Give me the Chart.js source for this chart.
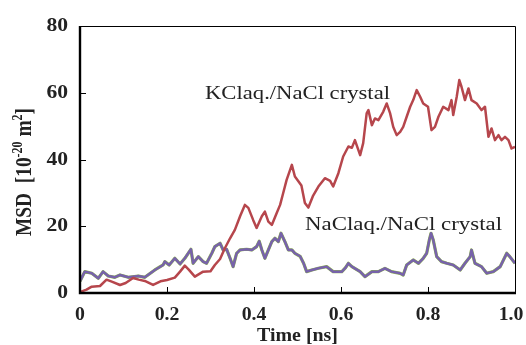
<!DOCTYPE html>
<html>
<head>
<meta charset="utf-8">
<script src="https://cdn.jsdelivr.net/npm/chart.js@4.4.1/dist/chart.umd.min.js"></script>
<style>
  html, body { margin: 0; padding: 0; background: #fff; }
  #wrap { width: 526px; height: 345px; }
</style>
</head>
<body>
<div id="wrap"><canvas id="myChart" width="526" height="345"></canvas></div>
<script>
// KCl aq. / NaCl crystal (red line)
const kclTime = [0.000,0.015,0.027,0.046,0.061,0.073,0.092,0.105,0.122,0.135,0.149,0.168,0.185,0.200,0.218,0.230,0.241,0.250,0.264,0.283,
  0.300,0.310,0.322,0.333,0.345,0.356,0.368,0.379,0.387,0.398,0.406,0.418,0.425,0.433,0.441,0.452,0.460,0.467,0.475,0.487,
  0.494,0.502,0.509,0.517,0.525,0.536,0.548,0.563,0.575,0.582,0.594,0.605,0.617,0.625,0.632,0.644,0.651,0.659,0.663,0.671,
  0.678,0.686,0.697,0.705,0.713,0.720,0.728,0.736,0.743,0.751,0.759,0.766,0.774,0.782,0.789,0.800,0.808,0.816,0.824,0.835,
  0.847,0.854,0.858,0.866,0.872,0.877,0.885,0.893,0.900,0.912,0.923,0.931,0.939,0.946,0.954,0.962,0.969,0.977,0.985,0.992,1.000];
const kclMsd = [0.3,1.0,1.9,2.1,4.0,3.4,2.4,3.0,4.5,4.0,3.6,2.4,3.5,3.9,4.6,6.4,8.2,7.0,4.9,6.4,
  6.5,8.4,10.2,13.4,16.4,18.9,23.0,26.4,25.5,21.9,19.5,23.0,24.4,21.4,20.4,23.9,26.4,29.9,33.9,38.4,
  34.9,33.5,32.2,27.0,25.6,29.2,31.9,34.4,33.6,31.9,35.9,40.9,43.9,43.5,45.8,41.3,44.9,53.8,54.8,50.3,
  52.3,51.8,54.3,56.8,53.8,49.8,47.3,48.3,49.8,52.8,55.8,57.8,60.8,58.8,56.8,55.8,48.8,49.8,52.8,55.8,
  54.8,57.8,53.3,58.8,63.8,61.8,57.8,61.3,57.8,56.8,54.8,55.8,46.8,49.3,45.8,47.3,45.8,46.8,45.8,43.3,43.8];

// NaCl aq. / NaCl crystal (purple line)
const naclTime = [0.000,0.011,0.027,0.042,0.053,0.065,0.080,0.092,0.111,0.134,0.149,0.172,0.191,0.195,0.205,0.218,0.230,0.241,0.255,0.260,
  0.272,0.283,0.291,0.303,0.310,0.322,0.329,0.337,0.345,0.352,0.360,0.368,0.383,0.395,0.406,0.412,0.418,0.425,0.433,0.441,
  0.448,0.456,0.462,0.471,0.479,0.487,0.494,0.506,0.514,0.521,0.533,0.548,0.567,0.582,0.602,0.610,0.617,0.625,0.644,0.655,
  0.671,0.686,0.701,0.716,0.736,0.743,0.751,0.766,0.778,0.789,0.797,0.803,0.807,0.812,0.820,0.831,0.843,0.858,0.874,0.885,
  0.897,0.900,0.908,0.923,0.935,0.950,0.966,0.981,0.988,1.000];
const naclMsd = [3.5,6.4,5.9,4.4,6.4,5.1,4.7,5.4,4.7,5.1,4.7,6.9,8.4,9.4,8.4,10.4,8.7,10.4,13.1,8.9,
  10.9,9.4,8.9,11.9,13.9,14.9,12.9,13.1,10.4,7.9,11.9,12.9,13.1,12.9,13.9,15.5,12.9,10.4,12.9,15.4,
  16.4,15.4,17.9,15.4,12.9,12.9,11.9,11.0,8.9,6.4,6.9,7.4,7.9,6.4,6.4,7.5,8.9,7.9,6.4,4.9,
  6.4,6.4,7.4,6.4,5.9,5.4,8.4,9.9,8.9,10.4,11.9,15.9,17.9,15.9,10.9,9.4,8.9,8.4,6.9,8.9,
  10.9,12.9,8.9,7.9,5.9,6.4,7.9,11.9,10.9,8.9];

const xTicks = [0, 0.2, 0.4, 0.6, 0.8, 1.0];
const yTicks = [0, 20, 40, 60, 80];
const xTickLabels = ['0', '0.2', '0.4', '0.6', '0.8', '1.0'];
const yTickLabels = ['0', '20', '40', '60', '80'];

function pts(xs, ys) {
  return xs.map((x, i) => ({ x: x, y: ys[i] }));
}

const serif = '"Liberation Serif", "Times New Roman", serif';
const ink = '#222';

// text stretched horizontally like the scanned figure
function wideText(c, text, x, y, font, sx, align) {
  c.save();
  c.font = font;
  const w = c.measureText(text).width * sx;
  let left = x;
  if (align === 'center') left = x - w / 2;
  if (align === 'right') left = x - w;
  c.translate(left, y);
  c.scale(sx, 1);
  c.textAlign = 'left';
  c.fillText(text, 0, 0);
  c.restore();
}

function fitText(c, text, left, baseline, font, width) {
  c.save();
  c.font = font;
  const sx = width / c.measureText(text).width;
  c.translate(left, baseline);
  c.scale(sx, 1);
  c.textAlign = 'left';
  c.fillText(text, 0, 0);
  c.restore();
}

// frame, inner ticks, labels and the y title
const extras = {
  id: 'extras',
  afterDraw(chart) {
    const c = chart.ctx;
    const a = chart.chartArea;
    const xs = chart.scales.x, ys = chart.scales.y;
    c.save();
    c.strokeStyle = '#000';
    c.lineWidth = 1;
    c.beginPath();
    c.moveTo(a.left, a.top + 0.5); c.lineTo(a.right + 0.5, a.top + 0.5);
    c.lineTo(a.right + 0.5, a.bottom);
    c.stroke();
    c.lineWidth = 2.4;
    c.beginPath();
    c.moveTo(a.left, a.top); c.lineTo(a.left, a.bottom); c.lineTo(a.right + 1, a.bottom);
    c.stroke();
    c.lineWidth = 1;
    xTicks.slice(1, -1).forEach(v => {
      const px = Math.round(xs.getPixelForValue(v)) + 0.5;
      c.beginPath(); c.moveTo(px, a.bottom); c.lineTo(px, a.bottom - 6); c.stroke();
    });
    yTicks.slice(1, -1).forEach(v => {
      const py = Math.round(ys.getPixelForValue(v)) + 0.5;
      c.beginPath(); c.moveTo(a.left, py); c.lineTo(a.left + 6, py); c.stroke();
    });

    c.fillStyle = ink;
    c.textBaseline = 'alphabetic';
    const tickFont = 'bold 18px ' + serif;
    xTicks.forEach((v, i) => {
      let px = xs.getPixelForValue(v);
      if (i === xTicks.length - 1) px -= 4; // keep "1.0" inside the canvas
      wideText(c, xTickLabels[i], px, a.bottom + 27, tickFont, 1.1, 'center');
    });
    yTicks.forEach((v, i) => {
      wideText(c, yTickLabels[i], a.left - 12, ys.getPixelForValue(v) + 5, tickFont, 1.2, 'right');
    });

    fitText(c, 'Time [ns]', 257, 341, 'bold 18.5px ' + serif, 81);

    fitText(c, 'KClaq./NaCl crystal', 205, 99, '18.6px ' + serif, 185);
    fitText(c, 'NaClaq./NaCl crystal', 305, 230, '18.6px ' + serif, 197);

    // y title with superscripts
    c.translate(23, 172);
    c.scale(1.17, 1);
    c.rotate(-Math.PI / 2);
    const parts = [['MSD  [10', 19.4, 0], ['-20', 12, -7], [' m', 19.4, 0], ['2', 12, -7], [']', 19.4, 0]];
    let w = 0;
    parts.forEach(p => { c.font = 'bold ' + p[1] + 'px ' + serif; w += c.measureText(p[0]).width; });
    let x = -w / 2;
    c.textBaseline = 'alphabetic';
    c.textAlign = 'left';
    parts.forEach(p => {
      c.font = 'bold ' + p[1] + 'px ' + serif;
      c.fillText(p[0], x, 6.5 + p[2]);
      x += c.measureText(p[0]).width;
    });
    c.restore();
  }
};

const ctx = document.getElementById('myChart');
new Chart(ctx, {
  type: 'line',
  data: {
    datasets: [
      { data: pts(kclTime, kclMsd), borderColor: '#b6464c', borderWidth: 2.5, order: 1 },
      { data: pts(naclTime, naclMsd), borderColor: '#7762aa', borderWidth: 2.5, order: 2 },
      { data: pts(naclTime, naclMsd), borderColor: '#8db34e', borderWidth: 3.2, order: 4 }
    ]
  },
  options: {
    responsive: false,
    animation: false,
    devicePixelRatio: 1,
    layout: { padding: { top: 26, right: 11, left: 0, bottom: 0 } },
    elements: { point: { radius: 0 }, line: { tension: 0, fill: false, borderJoinStyle: 'round' } },
    plugins: { legend: { display: false }, tooltip: { enabled: false } },
    scales: {
      x: {
        type: 'linear', min: 0, max: 1,
        afterBuildTicks: s => { s.ticks = xTicks.map(v => ({ value: v })); },
        afterFit: s => { s.height = 52; s.paddingLeft = 0; s.paddingRight = 0; },
        grid: { display: false },
        border: { display: false },
        ticks: { display: false }
      },
      y: {
        min: 0, max: 80,
        afterBuildTicks: s => { s.ticks = yTicks.map(v => ({ value: v })); },
        afterFit: s => { s.width = 80; s.paddingTop = 0; s.paddingBottom = 0; },
        grid: { display: false },
        border: { display: false },
        ticks: { display: false }
      }
    }
  },
  plugins: [extras]
});
</script>
</body>
</html>
